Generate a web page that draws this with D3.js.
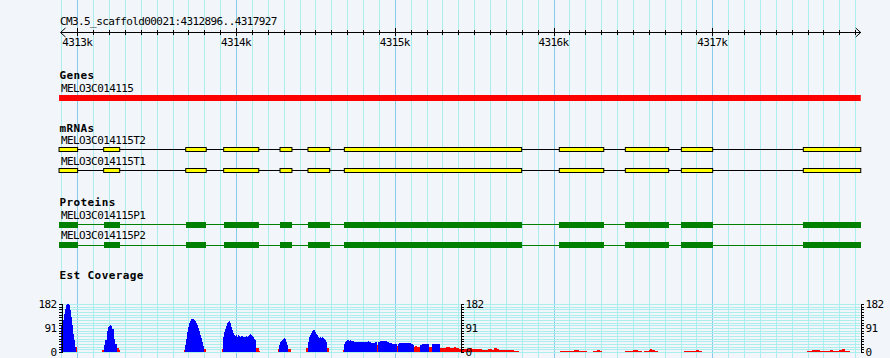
<!DOCTYPE html>
<html>
<head>
<meta charset="utf-8">
<script src="https://cdn.jsdelivr.net/npm/d3@7"></script>
<style>
html, body { margin: 0; padding: 0; background: #f2f6fa; }
svg { display: block; }
text { font-family: "DejaVu Sans Mono", monospace; font-size: 11px; letter-spacing: -0.6px; fill: #000; }
text.trackTitle { font-weight: bold; letter-spacing: 0.4px; }
</style>
</head>
<body>
<div id="chart"></div>
<script>
// region shown
const refName = "CM3.5_scaffold00021";
const viewStart = 4312896;
const viewEnd = 4317927;
const majorTicks = [4313000, 4314000, 4315000, 4316000, 4317000];
const majorTickLabels = ["4313k", "4314k", "4315k", "4316k", "4317k"];

// features
const geneName = "MELO3C014115";
const gene = [4312885, 4317935];
const mrnaNames = ["MELO3C014115T2", "MELO3C014115T1"];
const proteinNames = ["MELO3C014115P1", "MELO3C014115P2"];
const exons = [
    [4312885, 4313002], [4313166, 4313267], [4313683, 4313812], [4313922, 4314143],
    [4314277, 4314352], [4314453, 4314590], [4314682, 4315799], [4316036, 4316316],
    [4316452, 4316725], [4316805, 4317002], [4317573, 4317935]
];
const cds = exons;

// est coverage, [position, depth] steps (0 = end of a run)
const covMax = 182;
const covTicks = [0, 10, 20, 30, 40, 50, 60, 70, 80, 90, 91, 100, 110, 120, 130, 140, 150, 160, 170, 180, 182];
const covLabels = [0, 91, 182];
const covGrid = [0, 10, 20, 30, 40, 50, 60, 70, 80, 90, 100, 110, 120, 130, 140, 150, 160, 170, 180, 182];
const estBlue = [
    [4312896, 97], [4312911, 119], [4312917, 144], [4312923, 163], [4312930, 176], [4312936, 182],
    [4312942, 180], [4312948, 176], [4312955, 157], [4312961, 132], [4312967, 100], [4312974, 69],
    [4312980, 44], [4312986, 19], [4312990, 0],
    [4313171, 25], [4313177, 44], [4313184, 63], [4313190, 78], [4313196, 92], [4313202, 98],
    [4313209, 100], [4313215, 98], [4313221, 88], [4313228, 69], [4313234, 50], [4313240, 31],
    [4313247, 19], [4313253, 0],
    [4313677, 25], [4313683, 50], [4313689, 75], [4313696, 94], [4313702, 107], [4313708, 115],
    [4313714, 122], [4313721, 123], [4313727, 122], [4313733, 119], [4313740, 115], [4313746, 110],
    [4313752, 100], [4313759, 90], [4313765, 78], [4313771, 65], [4313777, 53], [4313784, 38],
    [4313790, 23], [4313796, 10], [4313801, 0],
    [4313918, 57], [4313924, 75], [4313931, 88], [4313937, 98], [4313943, 107], [4313950, 113],
    [4313956, 118], [4313960, 107], [4313966, 94], [4313973, 82], [4313979, 72], [4313985, 65],
    [4313992, 60], [4313998, 63], [4314004, 58], [4314010, 63], [4314017, 60], [4314023, 57],
    [4314029, 60], [4314036, 59], [4314042, 57], [4314048, 58], [4314055, 58], [4314061, 60],
    [4314067, 57], [4314073, 60], [4314080, 63], [4314086, 66], [4314092, 65], [4314099, 60],
    [4314105, 57], [4314111, 50], [4314118, 44], [4314124, 31], [4314128, 0],
    [4314271, 25], [4314277, 38], [4314283, 40], [4314290, 44], [4314296, 50], [4314302, 53],
    [4314308, 48], [4314315, 38], [4314321, 25], [4314327, 15], [4314330, 0],
    [4314451, 38], [4314458, 57], [4314464, 65], [4314470, 73], [4314476, 78], [4314483, 82],
    [4314489, 84], [4314495, 75], [4314502, 69], [4314508, 63], [4314514, 57], [4314521, 54],
    [4314527, 56], [4314533, 53], [4314539, 56], [4314546, 53], [4314552, 48], [4314558, 44],
    [4314565, 38], [4314571, 19], [4314575, 0],
    [4314682, 31], [4314688, 38], [4314695, 40], [4314701, 44], [4314707, 45], [4314714, 43],
    [4314720, 45], [4314726, 42], [4314733, 43], [4314739, 40], [4314745, 37], [4314790, 39],
    [4314800, 37], [4314830, 40], [4314840, 37], [4314852, 35], [4314877, 37], [4314890, 0],
    [4314896, 37], [4314903, 38], [4314909, 40], [4314915, 42], [4314940, 40], [4314953, 37],
    [4314966, 35], [4314984, 30], [4314997, 29], [4315016, 0],
    [4315022, 29], [4315028, 35], [4315060, 33], [4315085, 32], [4315104, 29], [4315117, 27], [4315121, 0],
    [4315156, 25], [4315169, 31], [4315188, 30], [4315207, 30], [4315213, 25], [4315217, 0],
    [4315232, 31], [4315257, 30], [4315270, 29], [4315282, 0]
];
const estRed = [
    [4312990, 19], [4312998, 0],
    [4313154, 6], [4313167, 19], [4313171, 0],
    [4313253, 15], [4313263, 6], [4313267, 0],
    [4313670, 6], [4313677, 0],
    [4313801, 13], [4313809, 0],
    [4313910, 13], [4313918, 0],
    [4314128, 15], [4314143, 5], [4314153, 0],
    [4314262, 13], [4314271, 0],
    [4314330, 13], [4314346, 0],
    [4314439, 15], [4314451, 0],
    [4314575, 15], [4314586, 0],
    [4314674, 6], [4314682, 0],
    [4314890, 25], [4314896, 0],
    [4315016, 21], [4315022, 0],
    [4315121, 18], [4315127, 22], [4315138, 18], [4315156, 0],
    [4315217, 18], [4315232, 0],
    [4315282, 15], [4315308, 15], [4315320, 17], [4315333, 18], [4315345, 15], [4315371, 18],
    [4315383, 15], [4315402, 12], [4315421, 10], [4315452, 13], [4315473, 15], [4315484, 12],
    [4315505, 13], [4315526, 11], [4315547, 9], [4315568, 8], [4315589, 10], [4315610, 9],
    [4315622, 14], [4315641, 13], [4315657, 9], [4315667, 6], [4315705, 9], [4315727, 9],
    [4315748, 5], [4315780, 0],
    [4316038, 4], [4316126, 9], [4316158, 5], [4316210, 0],
    [4316248, 5], [4316273, 8], [4316294, 5], [4316307, 0],
    [4316447, 4], [4316500, 8], [4316531, 4], [4316554, 0],
    [4316567, 5], [4316598, 9], [4316605, 12], [4316619, 9], [4316636, 5], [4316655, 0],
    [4316819, 3], [4316894, 7], [4316915, 3], [4316938, 0],
    [4317595, 4], [4317627, 8], [4317679, 4], [4317742, 8], [4317763, 4], [4317795, 8],
    [4317814, 10], [4317837, 4], [4317868, 0]
];

const width = 890, height = 358;
const svg = d3.select("#chart").append("svg")
    .attr("width", width)
    .attr("height", height);

svg.append("rect")
    .attr("width", width).attr("height", height)
    .attr("fill", "#f2f6fa");

const x = d3.scaleLinear().domain([viewStart, viewEnd]).range([60.8, 859.5]);
const px = v => Math.round(x(v)) + 0.5;

// grid lines every 100bp
const gridPos = d3.range(4312900, viewEnd, 100);
svg.append("g").selectAll("line")
    .data(gridPos)
    .join("line")
    .attr("x1", d => px(d)).attr("x2", d => px(d))
    .attr("y1", 0).attr("y2", height)
    .attr("stroke", d => d % 1000 === 0 ? "#86cbea" : "#aaeeee")
    .attr("stroke-width", 1);

// ruler
const ruler = svg.append("g").attr("shape-rendering", "crispEdges");
ruler.append("text")
    .attr("x", 60).attr("y", 25)
    .text(`${refName}:${viewStart}..${viewEnd}`);
ruler.append("line")
    .attr("x1", x(viewStart)).attr("x2", x(viewEnd) + 1)
    .attr("y1", 32.5).attr("y2", 32.5)
    .attr("stroke", "#000");
ruler.selectAll("line.minor")
    .data(gridPos.filter(d => d % 1000 !== 0 && d > 4312900))
    .join("line").attr("class", "minor")
    .attr("x1", d => px(d)).attr("x2", d => px(d))
    .attr("y1", 30).attr("y2", 35)
    .attr("stroke", "#000");
ruler.selectAll("line.major")
    .data(majorTicks)
    .join("line").attr("class", "major")
    .attr("x1", d => px(d)).attr("x2", d => px(d))
    .attr("y1", 28).attr("y2", 36)
    .attr("stroke", "#000");
ruler.selectAll("text.tl")
    .data(majorTicks)
    .join("text").attr("class", "tl")
    .attr("x", d => x(d))
    .attr("y", 46)
    .attr("text-anchor", "middle")
    .text((d, i) => majorTickLabels[i]);
// arrow heads
const xl = x(viewStart) - 0.3, xr = x(viewEnd) + 1.2;
ruler.append("path")
    .attr("d", `M${xl + 5},28 L${xl},32.5 L${xl + 5},37`)
    .attr("fill", "none").attr("stroke", "#000").attr("shape-rendering", "auto");
ruler.append("path")
    .attr("d", `M${xr - 5},28 L${xr},32.5 L${xr - 5},37`)
    .attr("fill", "none").attr("stroke", "#000").attr("shape-rendering", "auto");

// genes
svg.append("text").attr("class", "trackTitle").attr("x", 59.5).attr("y", 79).text("Genes");
svg.append("text").attr("x", 61).attr("y", 92).text(geneName);
svg.append("rect")
    .attr("x", x(gene[0])).attr("y", 95)
    .attr("width", x(gene[1]) - x(gene[0])).attr("height", 6)
    .attr("fill", "#ff0000");

// mRNAs
svg.append("text").attr("class", "trackTitle").attr("x", 59.5).attr("y", 132).text("mRNAs");
const mrnaRows = [144, 165];
mrnaNames.forEach((name, i) => {
    const base = mrnaRows[i];
    const g = svg.append("g");
    g.append("text").attr("x", 61).attr("y", base).text(name);
    const cy = base + 5.5;
    g.append("line")
        .attr("x1", x(exons[0][0])).attr("x2", x(exons[exons.length - 1][1]))
        .attr("y1", cy).attr("y2", cy)
        .attr("stroke", "#000").attr("stroke-width", 1);
    g.selectAll("rect")
        .data(exons)
        .join("rect")
        .attr("x", d => x(d[0]))
        .attr("y", cy - 2)
        .attr("width", d => x(d[1]) - x(d[0]))
        .attr("height", 4)
        .attr("fill", "#ffff00")
        .attr("stroke", "#000").attr("stroke-width", 1);
});

// proteins
svg.append("text").attr("class", "trackTitle").attr("x", 59.5).attr("y", 206).text("Proteins");
const protRows = [218.5, 239];
proteinNames.forEach((name, i) => {
    const base = protRows[i];
    const g = svg.append("g").attr("shape-rendering", "crispEdges");
    g.append("text").attr("x", 61).attr("y", base).text(name);
    const top = base + 3;
    g.append("line")
        .attr("x1", x(cds[0][0])).attr("x2", x(cds[cds.length - 1][1]))
        .attr("y1", top + 3).attr("y2", top + 3)
        .attr("stroke", "#008000").attr("stroke-width", 1);
    g.selectAll("rect")
        .data(cds)
        .join("rect")
        .attr("x", d => x(d[0]))
        .attr("y", top)
        .attr("width", d => x(d[1]) - x(d[0]))
        .attr("height", 6)
        .attr("fill", "#008000");
});

// est coverage
svg.append("text").attr("class", "trackTitle").attr("x", 59.5).attr("y", 279).text("Est Coverage");
const y = d3.scaleLinear().domain([0, covMax]).range([352, 303.5]);

svg.append("g").selectAll("line")
    .data(covGrid)
    .join("line")
    .attr("x1", 61).attr("x2", 860)
    .attr("y1", d => Math.round(y(d)) + 0.5).attr("y2", d => Math.round(y(d)) + 0.5)
    .attr("stroke", "#aaeeee");

function drawSteps(series, color) {
    const bars = [];
    for (let i = 0; i < series.length - 1; i++) {
        if (series[i][1] > 0) bars.push([series[i][0], series[i + 1][0], series[i][1]]);
    }
    svg.append("g").attr("shape-rendering", "crispEdges")
        .selectAll("rect")
        .data(bars)
        .join("rect")
        .attr("x", d => x(d[0]))
        .attr("width", d => x(d[1]) - x(d[0]))
        .attr("y", d => y(d[2]))
        .attr("height", d => y(0) - y(d[2]))
        .attr("fill", color);
}
drawSteps(estRed, "#ff0000");
drawSteps(estBlue, "#0000ff");

const fmt = d => covLabels.includes(d) ? d : "";
const axisPos = [[61, "left"], [460, "right"], [860, "right"]];
axisPos.forEach(([ax, side]) => {
    const axis = (side === "left" ? d3.axisLeft(y) : d3.axisRight(y))
        .tickValues(covTicks).tickFormat(fmt)
        .tickSize(3).tickSizeOuter(0).tickPadding(2);
    const g = svg.append("g")
        .attr("transform", `translate(${ax + 0.5},0)`)
        .call(axis);
    g.attr("font-family", null).attr("font-size", null);
    g.selectAll("path, line").attr("stroke", "#000").attr("shape-rendering", "crispEdges");
});
</script>
</body>
</html>
